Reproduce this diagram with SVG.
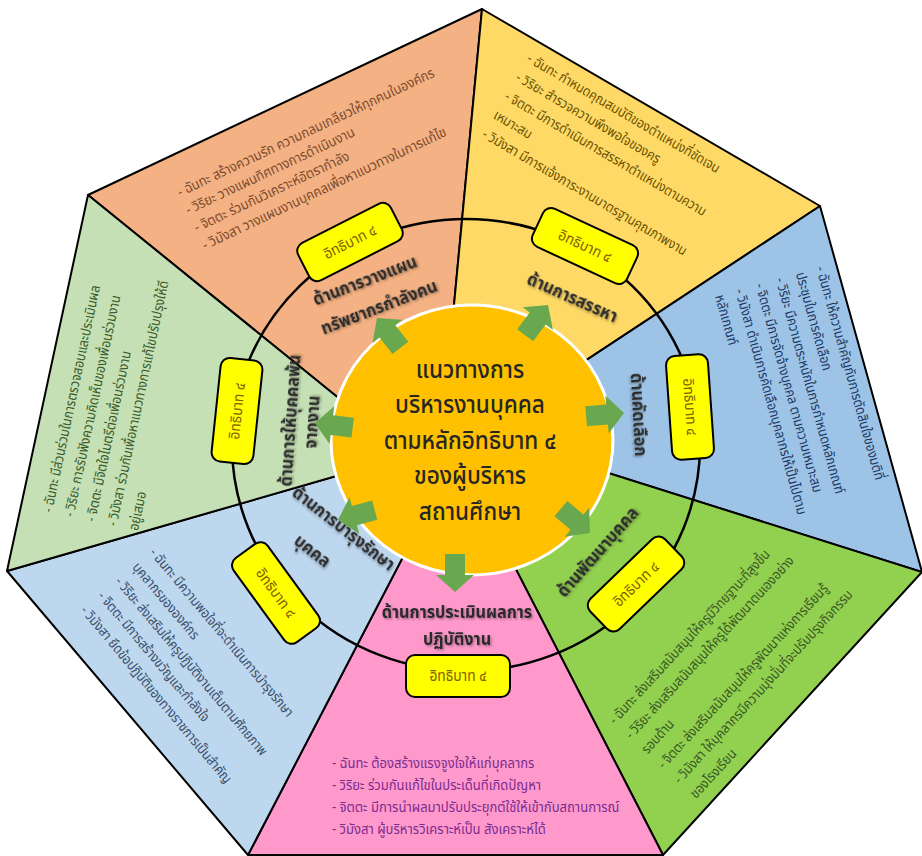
<svg xmlns="http://www.w3.org/2000/svg" width="922" height="856" viewBox="0 0 922 856">
<defs>
<style>
text{font-family:"Noto Sans Thai","Noto Sans","DejaVu Sans",sans-serif}
.w{stroke:#000;stroke-width:2;stroke-linejoin:round}
.b{font-size:14px}
.lab{font-size:18px;font-weight:bold;fill:#2B2B2B;text-anchor:middle;filter:url(#sh)}
.ar{fill:#6AA84F}
</style>
<filter id="sh" x="-10%" y="-30%" width="120%" height="160%">
<feDropShadow dx="1.5" dy="1.5" stdDeviation="1" flood-color="#000" flood-opacity="0.35"/>
</filter>
<g id="boxshape"><rect x="-52" y="-21" width="104" height="42" rx="9" fill="#FFFF00" stroke="#000" stroke-width="2"/><text x="0" y="5" font-size="15" fill="#7F6000" text-anchor="middle" transform="scale(0.92 1)">อิทธิบาท ๔</text></g>
<polygon id="arrow" points="-38,-10 -17,-10 -17,-19 0,0 -17,19 -17,10 -38,10"/>
</defs>

<g id="wedge-planning">
<polygon class="w" fill="#F4B183" points="472,440 420,464 88,195 482,9 445,400"/>
<text class="b" fill="#7A4B2E" transform="translate(180,197) rotate(-25.3) scale(0.92 1)"><tspan x="0" y="0">- ฉันทะ สร้างความรัก ความกลมเกลียวให้ทุกคนในองค์กร</tspan><tspan x="0" y="19.5">- วิริยะ วางแผนทิศทางการดำเนินงาน</tspan><tspan x="0" y="39">- จิตตะ ร่วมกันวิเคราะห์อัตรากำลัง</tspan><tspan x="0" y="58.5">- วิมังสา วางแผนงานบุคคลเพื่อหาแนวทางในการแก้ไข</tspan></text>
</g>
<g id="wedge-recruit">
<polygon class="w" fill="#FFD966" points="472,440 445,400 482,9 820,206 500,417"/>
<text class="b" fill="#6B5200" transform="translate(526,61) rotate(30.5) scale(0.88 1)"><tspan x="0" y="0">- ฉันทะ กำหนดคุณสมบัติของตำแหน่งที่ชัดเจน</tspan><tspan x="0" y="22">- วิริยะ สำรวจความพึงพอใจของครู</tspan><tspan x="0" y="44">- จิตตะ มีการดำเนินการสรรหาตำแหน่งตามความ</tspan><tspan x="0" y="66">เหมาะสม</tspan><tspan x="0" y="88">- วิมังสา มีการแจ้งภาระงานมาตรฐานคุณภาพงาน</tspan></text>
</g>
<g id="wedge-select">
<polygon class="w" fill="#9DC3E6" points="472,440 500,417 820,206 922,572 510,442"/>
<text class="b" fill="#203864" transform="translate(816,268) rotate(74.4) scale(0.88 1)"><tspan x="0" y="0">- ฉันทะ ให้ความสำคัญกับการตัดสินใจของมติที่</tspan><tspan x="0" y="21">ประชุมในการคัดเลือก</tspan><tspan x="0" y="42">- วิริยะ มีความตระหนักในการกำหนดหลักเกณฑ์</tspan><tspan x="0" y="63">- จิตตะ มีการจัดจ้างบุคคล ตามความเหมาะสม</tspan><tspan x="0" y="84">- วิมังสา ดำเนินการคัดเลือกบุคลากรให้เป็นไปตาม</tspan><tspan x="0" y="105">หลักเกณฑ์</tspan></text>
</g>
<g id="wedge-develop">
<polygon class="w" fill="#92D050" points="472,440 510,442 922,572 663,855 470,480"/>
<text class="b" fill="#385723" transform="translate(615,725) rotate(-47.5) scale(0.88 1)"><tspan x="0" y="0">- ฉันทะ ส่งเสริมสนับสนุนให้ครูมีวิทยฐานะที่สูงขึ้น</tspan><tspan x="0" y="22">- วิริยะ ส่งเสริมสนับสนุนให้ครูได้พัฒนาตนเองอย่าง</tspan><tspan x="0" y="44">รอบด้าน</tspan><tspan x="0" y="66">- จิตตะ ส่งเสริมสนับสนุนให้ครูพัฒนาแห่งการเรียนรู้</tspan><tspan x="0" y="88">- วิมังสา ให้บุคลากรมีความมุ่งมั่นที่จะปรับปรุงกิจกรรม</tspan><tspan x="0" y="110">ของโรงเรียน</tspan></text>
</g>
<g id="wedge-evaluate">
<polygon class="w" fill="#FF99CC" points="472,440 470,480 663,855 248,855 443,480"/>
<text fill="#7B2C8F" style="font-size:15px" transform="translate(332,768) scale(0.87 1)"><tspan x="0" y="0">- ฉันทะ ต้องสร้างแรงจูงใจให้แก่บุคลากร</tspan><tspan x="0" y="22">- วิริยะ ร่วมกันแก้ไขในประเด็นที่เกิดปัญหา</tspan><tspan x="0" y="44">- จิตตะ มีการนำผลมาปรับประยุกต์ใช้ให้เข้ากับสถานการณ์</tspan><tspan x="0" y="66">- วิมังสา ผู้บริหารวิเคราะห์เป็น สังเคราะห์ได้</tspan></text>
</g>
<g id="wedge-maintain">
<polygon class="w" fill="#BDD7EE" points="472,440 443,480 248,855 7,571 430,449"/>
<text class="b" fill="#3B4E6B" transform="translate(149,553) rotate(50) scale(0.88 1)"><tspan x="0" y="0">- ฉันทะ มีความพอใจที่จะดำเนินการบำรุงรักษา</tspan><tspan x="0" y="22.5">บุคลากรขององค์กร</tspan><tspan x="0" y="45">- วิริยะ ส่งเสริมให้ครูปฏิบัติงานเต็มตามศักยภาพ</tspan><tspan x="0" y="67.5">- จิตตะ มีการสร้างขวัญและกำลังใจ</tspan><tspan x="0" y="90">- วิมังสา ยึดข้อปฏิบัติของทางราชการเป็นสำคัญ</tspan></text>
</g>
<g id="wedge-separate">
<polygon class="w" fill="#C5E0B4" points="472,440 430,449 7,571 88,195 420,464"/>
<text class="b" fill="#3A5A2A" transform="translate(52,513) rotate(-78) scale(0.88 1)"><tspan x="0" y="0">- ฉันทะ มีส่วนร่วมในการตรวจสอบและประเมินผล</tspan><tspan x="0" y="22">- วิริยะ การรับฟังความคิดเห็นของเพื่อนร่วมงาน</tspan><tspan x="0" y="44">- จิตตะ มีจิตใจไมตรีต่อเพื่อนร่วมงาน</tspan><tspan x="0" y="66">- วิมังสา ร่วมกันเพื่อหาแนวทางการแก้ไขปรับปรุงให้ดี</tspan><tspan x="0" y="88">อยู่เสมอ</tspan></text>
</g>

<g id="connectors">
<ellipse cx="466" cy="445" rx="234" ry="226" fill="none" stroke="#000" stroke-width="2.5"/>
</g>

<g id="labels">
<text class="lab" transform="translate(367,286) rotate(-21) scale(0.9 1)"><tspan x="0" y="0">ด้านการวางแผน</tspan><tspan x="4" y="30">ทรัพยากรกำลังคน</tspan></text>
<text class="lab" transform="translate(570,303) rotate(24) scale(0.9 1)">ด้านการสรรหา</text>
<text class="lab" transform="translate(633,415) rotate(87) scale(0.9 1)">ด้านคัดเลือก</text>
<text class="lab" transform="translate(602,556) rotate(-48.5) scale(0.9 1)">ด้านพัฒนาบุคคล</text>
<text class="lab" transform="translate(457,618) scale(0.9 1)"><tspan x="0" y="0">ด้านการประเมินผลการ</tspan><tspan x="0" y="27">ปฏิบัติงาน</tspan></text>
<text class="lab" transform="translate(340,533) rotate(38) scale(0.9 1)"><tspan x="0" y="0">ด้านการบำรุงรักษา</tspan><tspan x="-12" y="37">บุคคล</tspan></text>
<text class="lab" transform="translate(296,421) rotate(-86) scale(0.9 1)"><tspan x="0" y="0">ด้านการให้บุคคลพ้น</tspan><tspan x="0" y="22">จากงาน</tspan></text>
</g>

<g id="box-planning"><use href="#boxshape" transform="translate(350,242) rotate(-27)"/></g>
<g id="box-recruit"><use href="#boxshape" transform="translate(585,246) rotate(25)"/></g>
<g id="box-select"><use href="#boxshape" transform="translate(690,407) rotate(86)"/></g>
<g id="box-develop"><use href="#boxshape" transform="translate(636,584) rotate(-44)"/></g>
<g id="box-evaluate"><use href="#boxshape" transform="translate(458,676)"/></g>
<g id="box-maintain"><use href="#boxshape" transform="translate(276,593) rotate(54)"/></g>
<g id="box-separate"><use href="#boxshape" transform="translate(237,411) rotate(-84)"/></g>

<g id="center">
<ellipse cx="472" cy="440" rx="141" ry="135" fill="#FFC000" stroke="#fff" stroke-width="3"/>
<text text-anchor="middle" style="font-size:24px;font-weight:500" fill="#262626" transform="translate(470 0) scale(0.94 1)"><tspan x="0" y="378">แนวทางการ</tspan><tspan x="0" y="413.5">บริหารงานบุคคล</tspan><tspan x="0" y="449">ตามหลักอิทธิบาท ๔</tspan><tspan x="0" y="484.5">ของผู้บริหาร</tspan><tspan x="0" y="520">สถานศึกษา</tspan></text>
</g>

<g id="arrows" class="ar">
<use href="#arrow" transform="translate(377,318) rotate(-128)"/>
<use href="#arrow" transform="translate(548,305) rotate(-53)"/>
<use href="#arrow" transform="translate(624,413) rotate(-5)"/>
<use href="#arrow" transform="translate(590,533) rotate(40)"/>
<use href="#arrow" transform="translate(455,592) rotate(90)"/>
<use href="#arrow" transform="translate(338,520) rotate(165)"/>
<use href="#arrow" transform="translate(315,423) rotate(-173)"/>
</g>
</svg>
